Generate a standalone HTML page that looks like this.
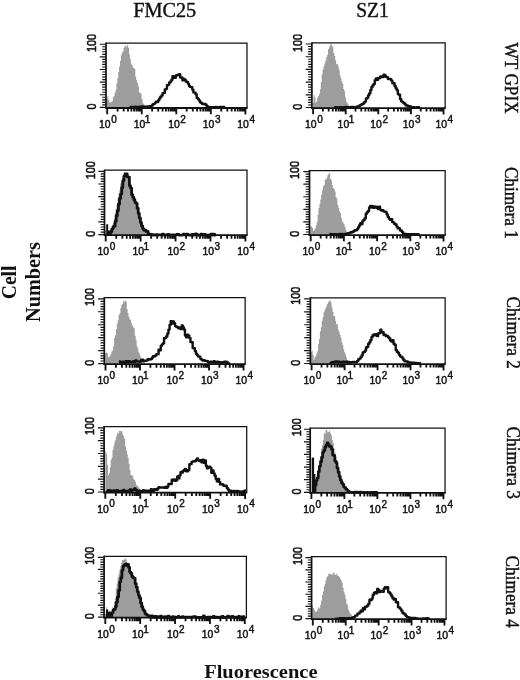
<!DOCTYPE html>
<html><head><meta charset="utf-8"><title>Figure</title>
<style>
html,body{margin:0;padding:0;background:#fff;}
body{width:520px;height:680px;overflow:hidden;font-family:"Liberation Sans",sans-serif;}
svg{display:block;will-change:transform;opacity:0.999;}
.tk{font-family:"Liberation Sans",sans-serif;font-size:10.4px;fill:#111;stroke:#111;stroke-width:0.45px;}
.sf{font-family:"Liberation Serif",serif;fill:#111;stroke:#111;stroke-width:0.4px;}
.sb{font-family:"Liberation Serif",serif;font-weight:bold;font-size:20px;fill:#111;}
</style></head><body>
<svg width="520" height="680" viewBox="0 0 520 680">
<rect width="520" height="680" fill="#fff"/>
<path d="M106.50 108.00L106.50 108.00L106.50 98.87H107.40V95.90H108.30V99.88H109.20V102.27H110.10V102.55H111.00V101.65H111.90V101.24H112.80V97.57H113.70V96.06H114.60V92.63H115.50V89.91H116.40V83.48H117.30V78.03H118.20V72.09H119.10V66.59H120.00V61.07H120.90V55.37H121.80V52.72H122.70V51.41H123.60V48.06H124.50V46.02H125.40V45.70H126.30V47.08H127.20V44.73H128.10V47.75H129.00V54.25H129.90V59.21H130.80V63.56H131.70V65.09H132.60V67.52H133.50V67.94H134.40V69.12H135.30V76.40H136.20V80.14H137.10V82.94H138.00V86.26H138.90V91.88H139.80V93.34H140.70V93.42H141.60V98.89H142.50V103.00H143.40V104.01H144.30V105.68H145.20V106.28H146.10V107.03H147.00V107.94H147.90V107.98H148.62V108.00Z" fill="#9d9d9d" stroke="none"/>
<path d="M312.70 108.10L312.70 108.10L312.70 103.03H313.60V95.14H314.50V97.58H315.40V102.84H316.30V101.49H317.20V97.75H318.10V95.88H319.00V93.95H319.90V89.23H320.80V82.21H321.70V74.30H322.60V69.20H323.50V66.15H324.40V63.40H325.30V60.65H326.20V56.98H327.10V54.63H328.00V49.32H328.90V47.57H329.80V44.61H330.70V44.31H331.60V45.16H332.50V47.32H333.40V53.08H334.30V56.08H335.20V60.37H336.10V64.32H337.00V63.87H337.90V66.13H338.80V69.44H339.70V75.13H340.60V78.36H341.50V81.42H342.40V83.78H343.30V89.03H344.20V91.18H345.10V97.30H346.00V101.48H346.90V103.10H347.80V104.19H348.70V106.28H349.60V107.19H350.50V107.97H350.80V108.10Z" fill="#9d9d9d" stroke="none"/>
<path d="M104.90 235.20L104.90 235.20L104.90 230.48H105.80V226.81H106.70V233.44H107.60V233.57H108.50V232.13H109.40V230.08H110.30V229.66H111.20V228.30H112.10V224.41H113.00V222.69H113.90V218.47H114.80V213.04H115.70V208.88H116.60V205.00H117.50V198.35H118.40V194.11H119.30V190.21H120.20V183.57H121.10V181.22H122.00V178.14H122.90V176.21H123.80V172.20H124.70V171.82H125.60V174.91H126.50V174.56H127.40V176.17H128.30V181.02H129.20V185.11H130.10V188.33H131.00V190.92H131.90V194.26H132.80V197.41H133.70V202.44H134.60V203.19H135.50V202.57H136.40V204.66H137.30V212.51H138.20V216.71H139.10V219.01H140.00V221.86H140.90V225.13H141.80V228.29H142.70V228.74H143.60V230.24H144.50V230.51H145.40V231.25H146.30V232.50H147.20V232.82H148.10V233.95H149.00V234.28H149.90V234.46H150.80V234.94H151.70V234.69H152.60V235.20H152.67V235.20Z" fill="#9d9d9d" stroke="none"/>
<path d="M310.40 235.10L310.40 235.10L310.40 226.29H311.30V226.60H312.20V228.12H313.10V230.95H314.00V229.81H314.90V228.58H315.80V225.35H316.70V221.90H317.60V214.82H318.50V208.05H319.40V204.09H320.30V199.49H321.20V194.43H322.10V189.91H323.00V186.14H323.90V184.88H324.80V179.57H325.70V179.49H326.60V177.52H327.50V175.07H328.40V173.85H329.30V172.99H330.20V178.91H331.10V180.48H332.00V184.98H332.90V188.08H333.80V188.93H334.70V191.52H335.60V197.09H336.50V198.79H337.40V204.69H338.30V208.11H339.20V211.30H340.10V213.01H341.00V217.67H341.90V221.48H342.80V222.72H343.70V224.21H344.60V226.96H345.50V230.12H346.40V231.80H347.30V233.12H348.20V234.40H348.93V235.10Z" fill="#9d9d9d" stroke="none"/>
<path d="M105.10 364.20L105.10 364.20L105.10 353.10H106.00V352.43H106.90V352.89H107.80V357.34H108.70V356.89H109.60V356.01H110.50V353.74H111.40V351.39H112.30V350.34H113.20V345.89H114.10V338.05H115.00V335.15H115.90V329.23H116.80V323.84H117.70V320.28H118.60V314.99H119.50V313.10H120.40V308.13H121.30V304.98H122.20V303.77H123.10V301.21H124.00V301.49H124.90V300.21H125.80V301.82H126.70V308.93H127.60V313.31H128.50V316.72H129.40V319.13H130.30V320.19H131.20V323.48H132.10V325.84H133.00V327.14H133.90V328.36H134.80V335.69H135.70V339.70H136.60V345.91H137.50V348.57H138.40V352.17H139.30V354.32H140.20V356.56H141.10V358.60H142.00V359.12H142.90V361.25H143.80V362.02H144.70V363.29H145.56V364.20Z" fill="#9d9d9d" stroke="none"/>
<path d="M310.90 364.10L310.90 364.10L310.90 351.86H311.80V350.90H312.70V354.89H313.60V359.73H314.50V357.22H315.40V356.06H316.30V353.48H317.20V351.30H318.10V344.09H319.00V338.94H319.90V331.62H320.80V327.33H321.70V321.12H322.60V317.26H323.50V312.33H324.40V310.15H325.30V308.18H326.20V306.35H327.10V303.63H328.00V301.99H328.90V300.91H329.80V300.51H330.70V302.47H331.60V307.44H332.50V312.01H333.40V315.74H334.30V316.60H335.20V320.65H336.10V324.06H337.00V324.59H337.90V329.49H338.80V332.12H339.70V335.02H340.60V337.98H341.50V341.99H342.40V345.04H343.30V348.99H344.20V352.16H345.10V354.32H346.00V357.35H346.90V359.98H347.80V361.38H348.70V362.82H349.60V363.76H349.64V364.10Z" fill="#9d9d9d" stroke="none"/>
<path d="M105.31 492.60L105.31 492.60L105.31 450.88H106.21V453.83H107.11V464.88H108.01V475.29H108.91V472.63H109.81V467.45H110.71V459.81H111.61V457.39H112.51V450.09H113.41V445.88H114.31V442.24H115.21V439.81H116.11V435.97H117.01V432.70H117.91V433.82H118.81V430.93H119.71V430.73H120.61V431.25H121.51V431.23H122.41V434.43H123.31V436.21H124.21V438.76H125.11V446.31H126.01V450.32H126.91V454.37H127.81V458.06H128.71V463.87H129.61V469.90H130.51V474.97H131.41V475.36H132.31V475.78H133.21V479.11H134.11V479.88H135.01V481.54H135.91V484.97H136.81V485.55H137.71V486.88H138.61V487.75H139.51V488.94H140.41V489.73H141.31V490.88H142.21V491.55H143.11V491.76H143.67V492.60Z" fill="#9d9d9d" stroke="none"/>
<path d="M311.20 492.90L311.20 492.90L311.20 491.99H312.10V489.76H313.00V487.86H313.90V485.23H314.80V481.53H315.70V477.58H316.60V475.18H317.50V470.53H318.40V467.00H319.30V459.69H320.20V456.25H321.10V448.48H322.00V445.18H322.90V439.82H323.80V433.35H324.70V433.59H325.60V429.82H326.50V430.31H327.40V432.37H328.30V432.00H329.20V430.64H330.10V433.36H331.00V435.22H331.90V439.91H332.80V442.98H333.70V448.52H334.60V452.51H335.50V456.36H336.40V459.90H337.30V463.02H338.20V469.67H339.10V473.22H340.00V475.67H340.90V480.13H341.80V482.11H342.70V485.35H343.60V487.39H344.50V487.80H345.40V489.13H346.30V490.33H347.20V491.08H348.10V492.14H349.00V492.72H349.00V492.90Z" fill="#9d9d9d" stroke="none"/>
<path d="M105.00 617.70L105.00 617.70L105.00 614.09H105.90V607.27H106.80V608.97H107.70V612.58H108.60V611.52H109.50V612.24H110.40V612.28H111.30V610.83H112.20V607.37H113.10V608.17H114.00V601.85H114.90V597.64H115.80V588.59H116.70V583.46H117.60V577.43H118.50V573.86H119.40V569.81H120.30V566.26H121.20V562.60H122.10V559.97H123.00V559.74H123.90V559.76H124.80V558.58H125.70V559.41H126.60V561.78H127.50V563.46H128.40V568.34H129.30V571.18H130.20V571.18H131.10V575.28H132.00V575.83H132.90V577.19H133.80V579.00H134.70V581.84H135.60V585.20H136.50V589.11H137.40V589.94H138.30V592.88H139.20V596.99H140.10V600.62H141.00V602.94H141.90V605.62H142.80V609.71H143.70V611.91H144.60V613.14H145.50V614.21H146.40V615.20H147.30V615.50H148.20V616.00H149.10V616.26H150.00V616.84H150.90V617.32H151.80V617.45H152.00V617.70Z" fill="#9d9d9d" stroke="none"/>
<path d="M312.10 619.20L312.10 619.20L312.10 606.03H313.00V607.99H313.90V609.64H314.80V611.50H315.70V612.08H316.60V610.92H317.50V608.57H318.40V607.35H319.30V608.39H320.20V604.63H321.10V600.56H322.00V595.09H322.90V591.56H323.80V586.61H324.70V583.80H325.60V579.77H326.50V576.88H327.40V575.86H328.30V573.67H329.20V573.97H330.10V573.75H331.00V574.54H331.90V574.75H332.80V572.65H333.70V572.58H334.60V574.83H335.50V574.96H336.40V573.51H337.30V575.75H338.20V575.67H339.10V577.34H340.00V578.48H340.90V580.32H341.80V582.79H342.70V587.76H343.60V591.41H344.50V594.38H345.40V598.63H346.30V603.85H347.20V605.35H348.10V609.75H349.00V611.99H349.90V613.70H350.80V614.55H351.70V616.35H352.60V617.03H353.50V617.61H354.40V618.23H354.86V619.20Z" fill="#9d9d9d" stroke="none"/>
<path d="M106.00 43.10H247.00V108.00" fill="none" stroke="#111" stroke-width="1.25"/>
<path d="M105.40 108.00H247.60" fill="none" stroke="#111" stroke-width="1.8"/>
<path d="M106.00 108.80V42.50" fill="none" stroke="#111" stroke-width="1.7"/>
<path d="M107.20 108.00v6.2M117.60 108.00v3.5M123.68 108.00v3.5M128.00 108.00v3.5M131.35 108.00v3.5M134.09 108.00v3.5M136.40 108.00v3.5M138.40 108.00v3.5M140.17 108.00v3.5M141.75 108.00v6.2M152.15 108.00v3.5M158.23 108.00v3.5M162.55 108.00v3.5M165.90 108.00v3.5M168.64 108.00v3.5M170.95 108.00v3.5M172.95 108.00v3.5M174.72 108.00v3.5M176.30 108.00v6.2M186.70 108.00v3.5M192.78 108.00v3.5M197.10 108.00v3.5M200.45 108.00v3.5M203.19 108.00v3.5M205.50 108.00v3.5M207.50 108.00v3.5M209.27 108.00v3.5M210.85 108.00v6.2M221.25 108.00v3.5M227.33 108.00v3.5M231.65 108.00v3.5M235.00 108.00v3.5M237.74 108.00v3.5M240.05 108.00v3.5M242.05 108.00v3.5M243.82 108.00v3.5M245.40 108.00v6.4" fill="none" stroke="#111" stroke-width="1.85"/>
<path d="M106.00 107.40h-6.2M106.00 104.87h-3.8M106.00 102.34h-3.8M106.00 99.82h-3.8M106.00 97.29h-3.8M106.00 94.76h-6.2M106.00 92.23h-3.8M106.00 89.70h-3.8M106.00 87.18h-3.8M106.00 84.65h-3.8M106.00 82.12h-6.2M106.00 79.59h-3.8M106.00 77.06h-3.8M106.00 74.54h-3.8M106.00 72.01h-3.8M106.00 69.48h-6.2M106.00 66.95h-3.8M106.00 64.42h-3.8M106.00 61.90h-3.8M106.00 59.37h-3.8M106.00 56.84h-6.2M106.00 54.31h-3.8M106.00 51.78h-3.8M106.00 49.26h-3.8M106.00 46.73h-3.8M106.00 44.20h-6.2" fill="none" stroke="#111" stroke-width="1.15"/>
<path d="M129.57 107.18H130.67V107.01H131.77V107.06H132.87V106.92H133.97V106.89H135.07V106.77H136.17V106.89H137.27V107.09H138.37V106.96H139.47V106.68H140.57V106.93H141.67V106.52H142.77V106.82H143.87V106.67H144.97V106.62H146.07V106.66H147.17V106.48H148.27V106.55H149.37V106.32H150.47V106.11H151.57V105.44H152.67V104.32H153.77V103.84H154.87V102.62H155.97V101.75H157.07V102.01H158.17V100.18H159.27V98.34H160.37V96.73H161.47V95.41H162.57V93.08H163.67V92.99H164.77V89.48H165.87V88.87H166.97V85.18H168.07V84.65H169.17V82.43H170.27V81.47H171.37V79.72H172.47V76.29H173.57V77.91H174.67V77.77H175.77V75.34H176.87V75.26H177.97V74.67H179.07V74.30H180.17V77.49H181.27V77.45H182.37V80.20H183.47V79.01H184.57V79.78H185.67V81.50H186.77V81.85H187.87V83.62H188.97V86.04H190.07V86.89H191.17V87.08H192.27V89.59H193.37V92.38H194.47V92.64H195.57V94.28H196.67V97.74H197.77V98.86H198.87V100.35H199.97V102.22H201.07V103.01H202.17V103.97H203.27V103.97H204.37V104.03H205.47V104.66H206.57V105.88H207.67V106.91H208.77V107.14H209.87V107.18H210.97V107.31H212.07V107.10H213.17V107.18H214.27V107.19H215.37V106.95H216.47V107.13H217.57V107.21H218.67V107.17H219.77V107.07H220.87V107.01H221.97V107.22H223.07V107.07H224.17V107.27H225.14" fill="none" stroke="#111" stroke-width="2.4" stroke-linejoin="round"/>
<text x="99.10" y="128.10" class="tk">10<tspan dx="0.6" dy="-5.3" style="font-size:10px">0</tspan></text>
<text x="133.65" y="128.10" class="tk">10<tspan dx="-0.5" dy="-5.3" style="font-size:10px">1</tspan></text>
<text x="168.20" y="128.10" class="tk">10<tspan dx="0.6" dy="-5.3" style="font-size:10px">2</tspan></text>
<text x="202.75" y="128.10" class="tk">10<tspan dx="0.6" dy="-5.3" style="font-size:10px">3</tspan></text>
<text x="237.30" y="128.10" class="tk">10<tspan dx="0.6" dy="-5.3" style="font-size:10px">4</tspan></text>
<text transform="translate(95.80 52.00) rotate(-90) scale(1.045 1.23)" class="tk">100</text>
<text transform="translate(95.80 109.60) rotate(-90) scale(1.045 1.23)" class="tk">0</text>
<path d="M311.90 42.90H445.15V108.10" fill="none" stroke="#111" stroke-width="1.25"/>
<path d="M311.30 108.10H445.75" fill="none" stroke="#111" stroke-width="1.8"/>
<path d="M311.90 108.90V42.30" fill="none" stroke="#111" stroke-width="1.7"/>
<path d="M313.10 108.10v6.2M322.92 108.10v3.5M328.66 108.10v3.5M332.73 108.10v3.5M335.90 108.10v3.5M338.48 108.10v3.5M340.66 108.10v3.5M342.55 108.10v3.5M344.22 108.10v3.5M345.71 108.10v6.2M355.53 108.10v3.5M361.27 108.10v3.5M365.35 108.10v3.5M368.51 108.10v3.5M371.09 108.10v3.5M373.27 108.10v3.5M375.16 108.10v3.5M376.83 108.10v3.5M378.32 108.10v6.2M388.14 108.10v3.5M393.89 108.10v3.5M397.96 108.10v3.5M401.12 108.10v3.5M403.70 108.10v3.5M405.89 108.10v3.5M407.78 108.10v3.5M409.45 108.10v3.5M410.94 108.10v6.2M420.75 108.10v3.5M426.50 108.10v3.5M430.57 108.10v3.5M433.73 108.10v3.5M436.31 108.10v3.5M438.50 108.10v3.5M440.39 108.10v3.5M442.06 108.10v3.5M443.55 108.10v6.4" fill="none" stroke="#111" stroke-width="1.85"/>
<path d="M311.90 107.50h-6.2M311.90 104.96h-3.8M311.90 102.42h-3.8M311.90 99.88h-3.8M311.90 97.34h-3.8M311.90 94.80h-6.2M311.90 92.26h-3.8M311.90 89.72h-3.8M311.90 87.18h-3.8M311.90 84.64h-3.8M311.90 82.10h-6.2M311.90 79.56h-3.8M311.90 77.02h-3.8M311.90 74.48h-3.8M311.90 71.94h-3.8M311.90 69.40h-6.2M311.90 66.86h-3.8M311.90 64.32h-3.8M311.90 61.78h-3.8M311.90 59.24h-3.8M311.90 56.70h-6.2M311.90 54.16h-3.8M311.90 51.62h-3.8M311.90 49.08h-3.8M311.90 46.54h-3.8M311.90 44.00h-6.2" fill="none" stroke="#111" stroke-width="1.15"/>
<path d="M334.06 107.58H335.16V107.30H336.26V107.34H337.36V107.56H338.46V107.53H339.56V107.28H340.66V107.29H341.76V107.49H342.86V107.38H343.96V107.31H345.06V107.06H346.16V107.38H347.26V107.31H348.36V107.17H349.46V107.08H350.56V107.00H351.66V107.06H352.76V107.04H353.86V107.14H354.96V107.13H356.06V106.91H357.16V106.33H358.26V106.42H359.36V105.55H360.46V105.02H361.56V104.20H362.66V103.80H363.76V102.45H364.86V101.38H365.96V98.48H367.06V97.82H368.16V95.28H369.26V93.14H370.36V89.98H371.46V87.02H372.56V85.23H373.66V83.92H374.76V80.25H375.86V78.44H376.96V79.85H378.06V77.85H379.16V78.13H380.26V76.36H381.36V76.47H382.46V77.03H383.56V74.62H384.66V75.44H385.76V76.90H386.86V77.22H387.96V79.04H389.06V79.02H390.16V79.10H391.26V80.59H392.36V83.30H393.46V83.13H394.56V85.99H395.66V88.19H396.76V90.08H397.86V94.09H398.96V94.68H400.06V98.99H401.16V101.16H402.26V101.89H403.36V102.98H404.46V103.76H405.56V105.25H406.66V105.51H407.76V106.09H408.86V106.26H409.96V106.48H411.06V107.17H412.16V107.18H413.26V107.17H414.36V107.39H415.46V107.39H416.56V107.11H417.66V107.18H418.76V107.48H419.86V107.48H420.18" fill="none" stroke="#111" stroke-width="2.4" stroke-linejoin="round"/>
<text x="305.00" y="128.20" class="tk">10<tspan dx="0.6" dy="-5.3" style="font-size:10px">0</tspan></text>
<text x="337.61" y="128.20" class="tk">10<tspan dx="-0.5" dy="-5.3" style="font-size:10px">1</tspan></text>
<text x="370.22" y="128.20" class="tk">10<tspan dx="0.6" dy="-5.3" style="font-size:10px">2</tspan></text>
<text x="402.84" y="128.20" class="tk">10<tspan dx="0.6" dy="-5.3" style="font-size:10px">3</tspan></text>
<text x="435.45" y="128.20" class="tk">10<tspan dx="0.6" dy="-5.3" style="font-size:10px">4</tspan></text>
<text transform="translate(301.80 52.00) rotate(-90) scale(1.045 1.23)" class="tk">100</text>
<text transform="translate(301.80 109.70) rotate(-90) scale(1.045 1.23)" class="tk">0</text>
<path d="M104.50 170.20H247.00V235.20" fill="none" stroke="#111" stroke-width="1.25"/>
<path d="M103.90 235.20H247.60" fill="none" stroke="#111" stroke-width="1.8"/>
<path d="M104.50 236.00V169.60" fill="none" stroke="#111" stroke-width="1.7"/>
<path d="M105.70 235.20v6.2M116.21 235.20v3.5M122.36 235.20v3.5M126.73 235.20v3.5M130.11 235.20v3.5M132.88 235.20v3.5M135.22 235.20v3.5M137.24 235.20v3.5M139.03 235.20v3.5M140.62 235.20v6.2M151.14 235.20v3.5M157.29 235.20v3.5M161.65 235.20v3.5M165.04 235.20v3.5M167.80 235.20v3.5M170.14 235.20v3.5M172.17 235.20v3.5M173.95 235.20v3.5M175.55 235.20v6.2M186.06 235.20v3.5M192.21 235.20v3.5M196.58 235.20v3.5M199.96 235.20v3.5M202.73 235.20v3.5M205.07 235.20v3.5M207.09 235.20v3.5M208.88 235.20v3.5M210.47 235.20v6.2M220.99 235.20v3.5M227.14 235.20v3.5M231.50 235.20v3.5M234.89 235.20v3.5M237.65 235.20v3.5M239.99 235.20v3.5M242.02 235.20v3.5M243.80 235.20v3.5M245.40 235.20v6.4" fill="none" stroke="#111" stroke-width="1.85"/>
<path d="M104.50 234.60h-6.2M104.50 232.07h-3.8M104.50 229.54h-3.8M104.50 227.00h-3.8M104.50 224.47h-3.8M104.50 221.94h-6.2M104.50 219.41h-3.8M104.50 216.88h-3.8M104.50 214.34h-3.8M104.50 211.81h-3.8M104.50 209.28h-6.2M104.50 206.75h-3.8M104.50 204.22h-3.8M104.50 201.68h-3.8M104.50 199.15h-3.8M104.50 196.62h-6.2M104.50 194.09h-3.8M104.50 191.56h-3.8M104.50 189.02h-3.8M104.50 186.49h-3.8M104.50 183.96h-6.2M104.50 181.43h-3.8M104.50 178.90h-3.8M104.50 176.36h-3.8M104.50 173.83h-3.8M104.50 171.30h-6.2" fill="none" stroke="#111" stroke-width="1.15"/>
<path d="M108.51 233.73H109.61V233.01H110.71V231.66H111.81V229.09H112.91V227.16H114.01V226.19H115.11V221.41H116.21V215.65H117.31V210.73H118.41V204.17H119.51V198.50H120.61V194.10H121.71V187.77H122.81V180.67H123.91V176.09H125.01V174.07H126.11V173.82H127.21V176.70H128.31V177.27H129.41V185.68H130.51V188.07H131.61V194.74H132.71V197.15H133.81V199.77H134.91V202.39H136.01V203.28H137.11V208.27H138.21V213.47H139.31V217.88H140.41V222.43H141.51V225.95H142.61V228.53H143.71V230.16H144.81V230.09H145.91V231.38H147.01V231.48H148.11V233.74H149.21V234.59H150.31V234.28H151.41V234.61H152.51V235.05H153.61V234.78H154.71V235.00H155.81V234.71H156.91V235.05H158.01V234.87H159.11V234.90H160.21V234.95H161.31V234.98H162.41V234.07H163.51V235.05H164.61V234.90H165.71V234.85H166.81V235.05H167.91V234.39H169.01V235.05H170.11V235.05H171.21V234.81H172.31V234.91H173.41V234.83H174.51V235.05H175.61V234.89H176.71V234.34H177.81V234.32H178.91V235.05H180.01V235.05H181.11V235.05H182.21V234.87H183.31V234.24H184.41V234.94H185.51V235.05H186.61V234.27H187.71V234.97H188.81V234.99H189.91V235.05H191.01V235.05H192.11V234.51H193.21V235.05H194.31V234.81H195.41V233.97H196.51V234.49H197.61V235.05H198.71V235.05H199.81V235.05H200.91V234.09H202.01V235.05H203.11V234.32H204.21V234.39H205.31V235.05H206.41V235.05H207.51V235.05H208.61V235.05H209.71V234.87H210.81V234.14H211.91V235.00H213.01V234.19H214.11V235.05H215.21V234.75H216.06" fill="none" stroke="#111" stroke-width="2.8" stroke-linejoin="round"/>
<path d="M107.20 235.20V224.30" fill="none" stroke="#111" stroke-width="2.0"/>
<path d="M108.80 235.20V230.50" fill="none" stroke="#111" stroke-width="2.0"/>
<path d="M110.40 235.20V231.00" fill="none" stroke="#111" stroke-width="1.8"/>
<text x="97.60" y="255.30" class="tk">10<tspan dx="0.6" dy="-5.3" style="font-size:10px">0</tspan></text>
<text x="132.53" y="255.30" class="tk">10<tspan dx="-0.5" dy="-5.3" style="font-size:10px">1</tspan></text>
<text x="167.45" y="255.30" class="tk">10<tspan dx="0.6" dy="-5.3" style="font-size:10px">2</tspan></text>
<text x="202.38" y="255.30" class="tk">10<tspan dx="0.6" dy="-5.3" style="font-size:10px">3</tspan></text>
<text x="237.30" y="255.30" class="tk">10<tspan dx="0.6" dy="-5.3" style="font-size:10px">4</tspan></text>
<text transform="translate(94.55 179.25) rotate(-90) scale(1.045 1.23)" class="tk">100</text>
<text transform="translate(94.55 236.80) rotate(-90) scale(1.045 1.23)" class="tk">0</text>
<path d="M309.50 170.50H445.15V235.10" fill="none" stroke="#111" stroke-width="1.25"/>
<path d="M308.90 235.10H445.75" fill="none" stroke="#111" stroke-width="1.8"/>
<path d="M309.50 235.90V169.90" fill="none" stroke="#111" stroke-width="1.7"/>
<path d="M310.70 235.10v6.2M320.70 235.10v3.5M326.55 235.10v3.5M330.70 235.10v3.5M333.91 235.10v3.5M336.54 235.10v3.5M338.77 235.10v3.5M340.69 235.10v3.5M342.39 235.10v3.5M343.91 235.10v6.2M353.91 235.10v3.5M359.76 235.10v3.5M363.91 235.10v3.5M367.13 235.10v3.5M369.76 235.10v3.5M371.98 235.10v3.5M373.91 235.10v3.5M375.61 235.10v3.5M377.12 235.10v6.2M387.12 235.10v3.5M392.97 235.10v3.5M397.12 235.10v3.5M400.34 235.10v3.5M402.97 235.10v3.5M405.19 235.10v3.5M407.12 235.10v3.5M408.82 235.10v3.5M410.34 235.10v6.2M420.34 235.10v3.5M426.18 235.10v3.5M430.33 235.10v3.5M433.55 235.10v3.5M436.18 235.10v3.5M438.41 235.10v3.5M440.33 235.10v3.5M442.03 235.10v3.5M443.55 235.10v6.4" fill="none" stroke="#111" stroke-width="1.85"/>
<path d="M309.50 234.50h-6.2M309.50 231.98h-3.8M309.50 229.47h-3.8M309.50 226.95h-3.8M309.50 224.44h-3.8M309.50 221.92h-6.2M309.50 219.40h-3.8M309.50 216.89h-3.8M309.50 214.37h-3.8M309.50 211.86h-3.8M309.50 209.34h-6.2M309.50 206.82h-3.8M309.50 204.31h-3.8M309.50 201.79h-3.8M309.50 199.28h-3.8M309.50 196.76h-6.2M309.50 194.24h-3.8M309.50 191.73h-3.8M309.50 189.21h-3.8M309.50 186.70h-3.8M309.50 184.18h-6.2M309.50 181.66h-3.8M309.50 179.15h-3.8M309.50 176.63h-3.8M309.50 174.12h-3.8M309.50 171.60h-6.2" fill="none" stroke="#111" stroke-width="1.15"/>
<path d="M329.47 234.04H330.57V234.12H331.67V234.11H332.77V234.09H333.87V234.15H334.97V234.11H336.07V234.25H337.17V234.37H338.27V234.37H339.37V233.97H340.47V234.25H341.57V234.03H342.67V234.36H343.77V234.17H344.87V233.96H345.97V234.13H347.07V233.47H348.17V233.31H349.27V232.91H350.37V232.10H351.47V232.18H352.57V231.79H353.67V231.06H354.77V230.31H355.87V230.21H356.97V229.16H358.07V227.25H359.17V225.32H360.27V223.12H361.37V223.95H362.47V220.76H363.57V219.75H364.67V218.18H365.77V213.73H366.87V212.17H367.97V210.88H369.07V207.40H370.17V206.00H371.27V207.51H372.37V206.09H373.47V207.69H374.57V206.80H375.67V206.70H376.77V207.88H377.87V209.02H378.97V206.82H380.07V209.60H381.17V210.49H382.27V210.18H383.37V211.21H384.47V211.65H385.57V212.11H386.67V214.42H387.77V217.01H388.87V218.60H389.97V219.79H391.07V219.09H392.17V221.91H393.27V222.59H394.37V223.94H395.47V224.44H396.57V226.59H397.67V228.31H398.77V228.28H399.87V230.23H400.97V230.73H402.07V232.13H403.17V233.82H404.27V233.88H405.37V233.98H406.47V234.13H407.57V234.25H408.67V234.33H409.77V234.15H410.87V234.14H411.97V234.23H413.07V234.59H414.17V234.19H415.27V234.57H416.37V234.12H417.47V234.37H418.57V234.22H419.46" fill="none" stroke="#111" stroke-width="2.4" stroke-linejoin="round"/>
<text x="302.60" y="255.20" class="tk">10<tspan dx="0.6" dy="-5.3" style="font-size:10px">0</tspan></text>
<text x="335.81" y="255.20" class="tk">10<tspan dx="-0.5" dy="-5.3" style="font-size:10px">1</tspan></text>
<text x="369.02" y="255.20" class="tk">10<tspan dx="0.6" dy="-5.3" style="font-size:10px">2</tspan></text>
<text x="402.24" y="255.20" class="tk">10<tspan dx="0.6" dy="-5.3" style="font-size:10px">3</tspan></text>
<text x="435.45" y="255.20" class="tk">10<tspan dx="0.6" dy="-5.3" style="font-size:10px">4</tspan></text>
<text transform="translate(299.30 179.00) rotate(-90) scale(1.045 1.23)" class="tk">100</text>
<text transform="translate(299.30 236.70) rotate(-90) scale(1.045 1.23)" class="tk">0</text>
<path d="M104.30 297.70H245.15V364.20" fill="none" stroke="#111" stroke-width="1.25"/>
<path d="M103.70 364.20H245.75" fill="none" stroke="#111" stroke-width="1.8"/>
<path d="M104.30 365.00V297.10" fill="none" stroke="#111" stroke-width="1.7"/>
<path d="M105.50 364.20v6.2M115.89 364.20v3.5M121.97 364.20v3.5M126.28 364.20v3.5M129.62 364.20v3.5M132.36 364.20v3.5M134.67 364.20v3.5M136.67 364.20v3.5M138.43 364.20v3.5M140.01 364.20v6.2M150.40 364.20v3.5M156.48 364.20v3.5M160.79 364.20v3.5M164.14 364.20v3.5M166.87 364.20v3.5M169.18 364.20v3.5M171.18 364.20v3.5M172.95 364.20v3.5M174.53 364.20v6.2M184.91 364.20v3.5M190.99 364.20v3.5M195.30 364.20v3.5M198.65 364.20v3.5M201.38 364.20v3.5M203.69 364.20v3.5M205.69 364.20v3.5M207.46 364.20v3.5M209.04 364.20v6.2M219.43 364.20v3.5M225.50 364.20v3.5M229.82 364.20v3.5M233.16 364.20v3.5M235.89 364.20v3.5M238.20 364.20v3.5M240.21 364.20v3.5M241.97 364.20v3.5M243.55 364.20v6.4" fill="none" stroke="#111" stroke-width="1.85"/>
<path d="M104.30 363.60h-6.2M104.30 361.01h-3.8M104.30 358.42h-3.8M104.30 355.82h-3.8M104.30 353.23h-3.8M104.30 350.64h-6.2M104.30 348.05h-3.8M104.30 345.46h-3.8M104.30 342.86h-3.8M104.30 340.27h-3.8M104.30 337.68h-6.2M104.30 335.09h-3.8M104.30 332.50h-3.8M104.30 329.90h-3.8M104.30 327.31h-3.8M104.30 324.72h-6.2M104.30 322.13h-3.8M104.30 319.54h-3.8M104.30 316.94h-3.8M104.30 314.35h-3.8M104.30 311.76h-6.2M104.30 309.17h-3.8M104.30 306.58h-3.8M104.30 303.98h-3.8M104.30 301.39h-3.8M104.30 298.80h-6.2" fill="none" stroke="#111" stroke-width="1.15"/>
<path d="M118.96 361.54H120.06V362.15H121.16V362.67H122.26V361.70H123.36V362.41H124.46V362.70H125.56V361.32H126.66V361.13H127.76V362.10H128.86V361.25H129.96V361.99H131.06V361.99H132.16V362.04H133.26V361.16H134.36V361.84H135.46V360.47H136.56V361.35H137.66V361.59H138.76V361.39H139.86V361.58H140.96V360.21H142.06V359.60H143.16V361.11H144.26V360.70H145.36V360.77H146.46V360.40H147.56V359.28H148.66V359.65H149.76V359.42H150.86V358.94H151.96V357.54H153.06V356.09H154.16V356.18H155.26V355.48H156.36V354.14H157.46V354.15H158.56V349.77H159.66V350.29H160.76V345.70H161.86V344.33H162.96V343.31H164.06V338.32H165.16V337.70H166.26V336.29H167.36V333.53H168.46V329.59H169.56V324.87H170.66V321.32H171.76V323.53H172.86V321.33H173.96V323.14H175.06V326.11H176.16V326.73H177.26V327.22H178.36V328.36H179.46V327.59H180.56V328.95H181.66V325.46H182.76V327.22H183.86V329.52H184.96V335.42H186.06V337.19H187.16V334.71H188.26V335.61H189.36V338.01H190.46V341.95H191.56V342.28H192.66V348.06H193.76V348.19H194.86V350.93H195.96V353.70H197.06V355.16H198.16V356.57H199.26V356.63H200.36V358.83H201.46V359.65H202.56V360.43H203.66V360.28H204.76V360.87H205.86V360.88H206.96V361.13H208.06V362.48H209.16V362.64H210.26V361.66H211.36V362.57H212.46V362.41H213.56V361.23H214.66V362.41H215.76V362.44H216.86V361.66H217.96V361.91H219.06V362.66H220.16V362.32H221.26V362.67H222.36V362.80H223.46V362.04H224.56V361.70H225.66V361.77H226.76V363.12H227.86V363.21H228.96V362.37H228.99" fill="none" stroke="#111" stroke-width="2.4" stroke-linejoin="round"/>
<text x="97.40" y="384.30" class="tk">10<tspan dx="0.6" dy="-5.3" style="font-size:10px">0</tspan></text>
<text x="131.91" y="384.30" class="tk">10<tspan dx="-0.5" dy="-5.3" style="font-size:10px">1</tspan></text>
<text x="166.43" y="384.30" class="tk">10<tspan dx="0.6" dy="-5.3" style="font-size:10px">2</tspan></text>
<text x="200.94" y="384.30" class="tk">10<tspan dx="0.6" dy="-5.3" style="font-size:10px">3</tspan></text>
<text x="235.45" y="384.30" class="tk">10<tspan dx="0.6" dy="-5.3" style="font-size:10px">4</tspan></text>
<text transform="translate(94.05 306.00) rotate(-90) scale(1.045 1.23)" class="tk">100</text>
<text transform="translate(94.05 365.80) rotate(-90) scale(1.045 1.23)" class="tk">0</text>
<path d="M310.40 297.80H445.15V364.10" fill="none" stroke="#111" stroke-width="1.25"/>
<path d="M309.80 364.10H445.75" fill="none" stroke="#111" stroke-width="1.8"/>
<path d="M310.40 364.90V297.20" fill="none" stroke="#111" stroke-width="1.7"/>
<path d="M311.60 364.10v6.2M321.53 364.10v3.5M327.34 364.10v3.5M331.46 364.10v3.5M334.66 364.10v3.5M337.27 364.10v3.5M339.48 364.10v3.5M341.39 364.10v3.5M343.08 364.10v3.5M344.59 364.10v6.2M354.52 364.10v3.5M360.33 364.10v3.5M364.45 364.10v3.5M367.64 364.10v3.5M370.26 364.10v3.5M372.47 364.10v3.5M374.38 364.10v3.5M376.07 364.10v3.5M377.57 364.10v6.2M387.51 364.10v3.5M393.31 364.10v3.5M397.44 364.10v3.5M400.63 364.10v3.5M403.24 364.10v3.5M405.45 364.10v3.5M407.37 364.10v3.5M409.05 364.10v3.5M410.56 364.10v6.2M420.49 364.10v3.5M426.30 364.10v3.5M430.42 364.10v3.5M433.62 364.10v3.5M436.23 364.10v3.5M438.44 364.10v3.5M440.35 364.10v3.5M442.04 364.10v3.5M443.55 364.10v6.4" fill="none" stroke="#111" stroke-width="1.85"/>
<path d="M310.40 363.50h-6.2M310.40 360.92h-3.8M310.40 358.33h-3.8M310.40 355.75h-3.8M310.40 353.16h-3.8M310.40 350.58h-6.2M310.40 348.00h-3.8M310.40 345.41h-3.8M310.40 342.83h-3.8M310.40 340.24h-3.8M310.40 337.66h-6.2M310.40 335.08h-3.8M310.40 332.49h-3.8M310.40 329.91h-3.8M310.40 327.32h-3.8M310.40 324.74h-6.2M310.40 322.16h-3.8M310.40 319.57h-3.8M310.40 316.99h-3.8M310.40 314.40h-3.8M310.40 311.82h-6.2M310.40 309.24h-3.8M310.40 306.65h-3.8M310.40 304.07h-3.8M310.40 301.48h-3.8M310.40 298.90h-6.2" fill="none" stroke="#111" stroke-width="1.15"/>
<path d="M329.72 363.17H330.82V362.82H331.92V362.21H333.02V362.03H334.12V361.96H335.22V361.56H336.32V361.48H337.42V362.07H338.52V361.69H339.62V361.98H340.72V361.99H341.82V362.05H342.92V361.81H344.02V361.91H345.12V362.09H346.22V361.65H347.32V362.18H348.42V361.90H349.52V362.30H350.62V362.27H351.72V362.09H352.82V361.94H353.92V362.07H355.02V362.16H356.12V361.97H357.22V360.85H358.32V359.29H359.42V358.61H360.52V357.29H361.62V355.19H362.72V352.52H363.82V351.93H364.92V350.54H366.02V347.43H367.12V346.69H368.22V343.69H369.32V342.19H370.42V339.91H371.52V336.97H372.62V335.27H373.72V334.45H374.82V335.40H375.92V334.13H377.02V335.97H378.12V333.36H379.22V333.03H380.32V329.72H381.42V332.19H382.52V332.12H383.62V335.00H384.72V334.65H385.82V336.07H386.92V336.06H388.02V337.26H389.12V338.22H390.22V340.48H391.32V341.47H392.42V340.19H393.52V343.78H394.62V344.80H395.72V349.94H396.82V351.75H397.92V352.70H399.02V354.83H400.12V356.42H401.22V357.05H402.32V358.32H403.42V359.97H404.52V361.20H405.62V361.41H406.72V361.52H407.82V362.23H408.92V362.45H410.02V362.36H411.12V362.61H412.22V363.04H413.32V362.62H414.42V363.21H415.52V362.98H416.62V363.19H417.72V363.27H418.82V363.35H419.92V363.20H420.92" fill="none" stroke="#111" stroke-width="2.4" stroke-linejoin="round"/>
<text x="303.50" y="384.20" class="tk">10<tspan dx="0.6" dy="-5.3" style="font-size:10px">0</tspan></text>
<text x="336.49" y="384.20" class="tk">10<tspan dx="-0.5" dy="-5.3" style="font-size:10px">1</tspan></text>
<text x="369.47" y="384.20" class="tk">10<tspan dx="0.6" dy="-5.3" style="font-size:10px">2</tspan></text>
<text x="402.46" y="384.20" class="tk">10<tspan dx="0.6" dy="-5.3" style="font-size:10px">3</tspan></text>
<text x="435.45" y="384.20" class="tk">10<tspan dx="0.6" dy="-5.3" style="font-size:10px">4</tspan></text>
<text transform="translate(300.20 304.85) rotate(-90) scale(1.045 1.23)" class="tk">100</text>
<text transform="translate(300.20 365.70) rotate(-90) scale(1.045 1.23)" class="tk">0</text>
<path d="M104.10 426.70H246.70V492.60" fill="none" stroke="#111" stroke-width="1.25"/>
<path d="M103.50 492.60H247.30" fill="none" stroke="#111" stroke-width="1.8"/>
<path d="M104.10 493.40V426.10" fill="none" stroke="#111" stroke-width="1.7"/>
<path d="M105.30 492.60v6.2M115.82 492.60v3.5M121.98 492.60v3.5M126.34 492.60v3.5M129.73 492.60v3.5M132.50 492.60v3.5M134.84 492.60v3.5M136.86 492.60v3.5M138.65 492.60v3.5M140.25 492.60v6.2M150.77 492.60v3.5M156.93 492.60v3.5M161.29 492.60v3.5M164.68 492.60v3.5M167.45 492.60v3.5M169.79 492.60v3.5M171.81 492.60v3.5M173.60 492.60v3.5M175.20 492.60v6.2M185.72 492.60v3.5M191.88 492.60v3.5M196.24 492.60v3.5M199.63 492.60v3.5M202.40 492.60v3.5M204.74 492.60v3.5M206.76 492.60v3.5M208.55 492.60v3.5M210.15 492.60v6.2M220.67 492.60v3.5M226.83 492.60v3.5M231.19 492.60v3.5M234.58 492.60v3.5M237.35 492.60v3.5M239.69 492.60v3.5M241.71 492.60v3.5M243.50 492.60v3.5M245.10 492.60v6.4" fill="none" stroke="#111" stroke-width="1.85"/>
<path d="M104.10 492.00h-6.2M104.10 489.43h-3.8M104.10 486.86h-3.8M104.10 484.30h-3.8M104.10 481.73h-3.8M104.10 479.16h-6.2M104.10 476.59h-3.8M104.10 474.02h-3.8M104.10 471.46h-3.8M104.10 468.89h-3.8M104.10 466.32h-6.2M104.10 463.75h-3.8M104.10 461.18h-3.8M104.10 458.62h-3.8M104.10 456.05h-3.8M104.10 453.48h-6.2M104.10 450.91h-3.8M104.10 448.34h-3.8M104.10 445.78h-3.8M104.10 443.21h-3.8M104.10 440.64h-6.2M104.10 438.07h-3.8M104.10 435.50h-3.8M104.10 432.94h-3.8M104.10 430.37h-3.8M104.10 427.80h-6.2" fill="none" stroke="#111" stroke-width="1.15"/>
<path d="M105.72 491.88H106.82V491.50H107.92V490.23H109.02V491.48H110.12V490.57H111.22V491.56H112.32V491.15H113.42V490.47H114.52V491.26H115.62V490.90H116.72V490.16H117.82V491.22H118.92V491.22H120.02V490.89H121.12V491.08H122.22V490.68H123.32V489.83H124.42V491.10H125.52V491.24H126.62V490.98H127.72V490.85H128.82V490.53H129.92V489.48H131.02V490.76H132.12V489.85H133.22V489.99H134.32V488.57H135.42V489.62H136.52V490.73H137.62V490.75H138.72V490.60H139.82V491.09H140.92V491.25H142.02V490.92H143.12V490.10H144.22V490.58H145.32V490.83H146.42V490.79H147.52V490.74H148.62V491.02H149.72V490.88H150.82V489.30H151.92V490.76H153.02V490.71H154.12V489.08H155.22V489.26H156.32V489.88H157.42V488.52H158.52V487.32H159.62V487.44H160.72V487.53H161.82V487.67H162.92V487.57H164.02V487.83H165.12V486.95H166.22V487.88H167.32V486.49H168.42V483.92H169.52V483.90H170.62V483.97H171.72V479.81H172.82V480.65H173.92V479.48H175.02V480.76H176.12V480.19H177.22V476.39H178.32V478.41H179.42V475.32H180.52V472.23H181.62V472.64H182.72V470.93H183.82V469.87H184.92V469.01H186.02V471.33H187.12V471.37H188.22V469.87H189.32V464.21H190.42V464.13H191.52V461.86H192.62V461.36H193.72V461.26H194.82V461.34H195.92V459.62H197.02V458.39H198.12V460.36H199.22V460.96H200.32V460.29H201.42V462.20H202.52V459.63H203.62V462.76H204.72V460.53H205.82V465.74H206.92V468.21H208.02V467.39H209.12V466.79H210.22V467.82H211.32V472.80H212.42V470.56H213.52V473.35H214.62V475.72H215.72V478.86H216.82V481.42H217.92V478.91H219.02V481.91H220.12V484.42H221.22V484.17H222.32V484.50H223.42V485.70H224.52V485.69H225.62V485.76H226.72V487.94H227.82V489.42H228.92V491.08H230.02V490.80H231.12V491.29H232.22V491.65H233.32V491.03H234.42V491.29H235.52V491.26H236.62V491.07H237.72V491.91H238.82V491.48H239.92V491.84H241.02V491.74H242.12V491.47H243.22V491.97H244.32V490.62H245.42V490.54H245.89" fill="none" stroke="#111" stroke-width="2.4" stroke-linejoin="round"/>
<text x="97.20" y="512.70" class="tk">10<tspan dx="0.6" dy="-5.3" style="font-size:10px">0</tspan></text>
<text x="132.15" y="512.70" class="tk">10<tspan dx="-0.5" dy="-5.3" style="font-size:10px">1</tspan></text>
<text x="167.10" y="512.70" class="tk">10<tspan dx="0.6" dy="-5.3" style="font-size:10px">2</tspan></text>
<text x="202.05" y="512.70" class="tk">10<tspan dx="0.6" dy="-5.3" style="font-size:10px">3</tspan></text>
<text x="237.00" y="512.70" class="tk">10<tspan dx="0.6" dy="-5.3" style="font-size:10px">4</tspan></text>
<text transform="translate(93.80 435.00) rotate(-90) scale(1.045 1.23)" class="tk">100</text>
<text transform="translate(93.80 494.20) rotate(-90) scale(1.045 1.23)" class="tk">0</text>
<path d="M310.20 428.10H445.05V492.90" fill="none" stroke="#111" stroke-width="1.25"/>
<path d="M309.60 492.90H445.65" fill="none" stroke="#111" stroke-width="1.8"/>
<path d="M310.20 493.70V427.50" fill="none" stroke="#111" stroke-width="1.7"/>
<path d="M311.40 492.90v6.2M321.34 492.90v3.5M327.15 492.90v3.5M331.28 492.90v3.5M334.47 492.90v3.5M337.09 492.90v3.5M339.30 492.90v3.5M341.21 492.90v3.5M342.90 492.90v3.5M344.41 492.90v6.2M354.35 492.90v3.5M360.16 492.90v3.5M364.29 492.90v3.5M367.49 492.90v3.5M370.10 492.90v3.5M372.31 492.90v3.5M374.23 492.90v3.5M375.91 492.90v3.5M377.42 492.90v6.2M387.36 492.90v3.5M393.18 492.90v3.5M397.30 492.90v3.5M400.50 492.90v3.5M403.11 492.90v3.5M405.32 492.90v3.5M407.24 492.90v3.5M408.93 492.90v3.5M410.44 492.90v6.2M420.38 492.90v3.5M426.19 492.90v3.5M430.31 492.90v3.5M433.51 492.90v3.5M436.13 492.90v3.5M438.34 492.90v3.5M440.25 492.90v3.5M441.94 492.90v3.5M443.45 492.90v6.4" fill="none" stroke="#111" stroke-width="1.85"/>
<path d="M310.20 492.30h-6.2M310.20 489.78h-3.8M310.20 487.25h-3.8M310.20 484.73h-3.8M310.20 482.20h-3.8M310.20 479.68h-6.2M310.20 477.16h-3.8M310.20 474.63h-3.8M310.20 472.11h-3.8M310.20 469.58h-3.8M310.20 467.06h-6.2M310.20 464.54h-3.8M310.20 462.01h-3.8M310.20 459.49h-3.8M310.20 456.96h-3.8M310.20 454.44h-6.2M310.20 451.92h-3.8M310.20 449.39h-3.8M310.20 446.87h-3.8M310.20 444.34h-3.8M310.20 441.82h-6.2M310.20 439.30h-3.8M310.20 436.77h-3.8M310.20 434.25h-3.8M310.20 431.72h-3.8M310.20 429.20h-6.2" fill="none" stroke="#111" stroke-width="1.15"/>
<path d="M315.00 485.19H316.10V480.54H317.20V478.06H318.30V471.57H319.40V466.28H320.50V461.83H321.60V457.47H322.70V452.32H323.80V450.44H324.90V447.21H326.00V445.02H327.10V442.96H328.20V444.97H329.30V446.38H330.40V446.62H331.50V449.42H332.60V455.08H333.70V455.60H334.80V461.02H335.90V462.53H337.00V468.06H338.10V472.18H339.20V476.41H340.30V479.97H341.40V482.68H342.50V484.11H343.60V486.74H344.70V487.65H345.80V489.13H346.90V490.32H348.00V491.04H349.10V492.07H350.20V492.51H351.30V492.33H352.40V492.34H353.50V492.42H354.60V492.13H355.70V492.47H356.80V492.17H357.90V492.37H359.00V492.51H360.10V492.15H361.20V492.48H362.30V492.55H363.40V492.29H364.50V492.59H365.60V492.61H366.70V492.26H367.80V492.54H368.90V492.59H370.00V492.33H371.10V492.58H372.20V492.36H373.30V492.54H374.40V492.47H375.50V492.33H376.60V492.64H377.70V492.60H378.00" fill="none" stroke="#111" stroke-width="2.7" stroke-linejoin="round"/>
<path d="M312.90 492.90V457.60" fill="none" stroke="#111" stroke-width="2.4"/>
<path d="M314.30 492.90V474.00" fill="none" stroke="#111" stroke-width="2.2"/>
<path d="M315.60 492.90V480.00" fill="none" stroke="#111" stroke-width="1.6"/>
<text x="303.30" y="513.00" class="tk">10<tspan dx="0.6" dy="-5.3" style="font-size:10px">0</tspan></text>
<text x="336.31" y="513.00" class="tk">10<tspan dx="-0.5" dy="-5.3" style="font-size:10px">1</tspan></text>
<text x="369.32" y="513.00" class="tk">10<tspan dx="0.6" dy="-5.3" style="font-size:10px">2</tspan></text>
<text x="402.34" y="513.00" class="tk">10<tspan dx="0.6" dy="-5.3" style="font-size:10px">3</tspan></text>
<text x="435.35" y="513.00" class="tk">10<tspan dx="0.6" dy="-5.3" style="font-size:10px">4</tspan></text>
<text transform="translate(300.55 436.25) rotate(-90) scale(1.045 1.23)" class="tk">100</text>
<text transform="translate(300.55 494.50) rotate(-90) scale(1.045 1.23)" class="tk">0</text>
<path d="M104.10 556.30H246.40V617.70" fill="none" stroke="#111" stroke-width="1.25"/>
<path d="M103.50 617.70H247.00" fill="none" stroke="#111" stroke-width="1.8"/>
<path d="M104.10 618.50V555.70" fill="none" stroke="#111" stroke-width="1.7"/>
<path d="M105.30 617.70v6.2M115.80 617.70v3.5M121.94 617.70v3.5M126.30 617.70v3.5M129.68 617.70v3.5M132.44 617.70v3.5M134.77 617.70v3.5M136.80 617.70v3.5M138.58 617.70v3.5M140.18 617.70v6.2M150.67 617.70v3.5M156.81 617.70v3.5M161.17 617.70v3.5M164.55 617.70v3.5M167.31 617.70v3.5M169.65 617.70v3.5M171.67 617.70v3.5M173.45 617.70v3.5M175.05 617.70v6.2M185.55 617.70v3.5M191.69 617.70v3.5M196.05 617.70v3.5M199.43 617.70v3.5M202.19 617.70v3.5M204.52 617.70v3.5M206.55 617.70v3.5M208.33 617.70v3.5M209.93 617.70v6.2M220.42 617.70v3.5M226.56 617.70v3.5M230.92 617.70v3.5M234.30 617.70v3.5M237.06 617.70v3.5M239.40 617.70v3.5M241.42 617.70v3.5M243.20 617.70v3.5M244.80 617.70v6.4" fill="none" stroke="#111" stroke-width="1.85"/>
<path d="M104.10 617.10h-6.2M104.10 614.71h-3.8M104.10 612.32h-3.8M104.10 609.94h-3.8M104.10 607.55h-3.8M104.10 605.16h-6.2M104.10 602.77h-3.8M104.10 600.38h-3.8M104.10 598.00h-3.8M104.10 595.61h-3.8M104.10 593.22h-6.2M104.10 590.83h-3.8M104.10 588.44h-3.8M104.10 586.06h-3.8M104.10 583.67h-3.8M104.10 581.28h-6.2M104.10 578.89h-3.8M104.10 576.50h-3.8M104.10 574.12h-3.8M104.10 571.73h-3.8M104.10 569.34h-6.2M104.10 566.95h-3.8M104.10 564.56h-3.8M104.10 562.18h-3.8M104.10 559.79h-3.8M104.10 557.40h-6.2" fill="none" stroke="#111" stroke-width="1.15"/>
<path d="M108.70 613.01H109.80V613.91H110.90V613.68H112.00V612.66H113.10V610.08H114.20V609.27H115.30V606.62H116.40V602.08H117.50V597.00H118.60V590.41H119.70V581.87H120.80V577.76H121.90V570.33H123.00V566.15H124.10V564.98H125.20V564.15H126.30V565.33H127.40V564.31H128.50V567.34H129.60V572.08H130.70V573.47H131.80V576.52H132.90V577.61H134.00V578.10H135.10V583.55H136.20V587.15H137.30V591.68H138.40V595.35H139.50V597.99H140.60V603.10H141.70V606.77H142.80V609.61H143.90V611.12H145.00V613.77H146.10V614.46H147.20V615.32H148.30V615.84H149.40V615.90H150.50V616.40H151.60V615.84H152.70V617.21H153.80V617.29H154.90V616.52H156.00V617.40H157.10V616.71H158.20V617.36H159.30V617.39H160.40V616.10H161.50V617.38H162.60V617.14H163.70V617.43H164.80V616.71H165.90V617.30H167.00V617.22H168.10V616.16H169.20V617.35H170.30V617.42H171.40V617.13H172.50V616.68H173.60V617.31H174.70V617.25H175.80V617.54H176.90V617.12H178.00V616.48H179.10V617.29H180.20V617.42H181.30V617.37H182.40V616.74H183.50V617.24H184.60V617.36H185.70V617.21H186.80V617.12H187.90V617.47H189.00V617.13H190.10V617.28H191.20V617.16H192.30V617.13H193.40V616.66H194.50V616.77H195.60V617.35H196.70V617.53H197.80V617.45H198.90V617.34H200.00V617.49H201.10V617.31H202.20V617.55H203.30V615.96H204.40V617.52H205.50V617.45H206.60V617.55H207.70V617.16H208.80V617.43H209.90V617.15H211.00V617.45H212.10V617.40H213.20V616.45H214.30V617.55H215.40V617.50H216.50V617.20H217.60V617.51H218.70V617.28H219.80V617.17H220.90V617.45H222.00V616.28H223.10V617.54H224.20V617.28H225.30V617.28H226.40V617.08H227.50V616.20H228.60V616.60H229.70V617.46H230.80V617.09H231.90V616.36H233.00V617.45H234.10V617.54H235.20V617.16H236.30V617.46H237.40V617.49H238.50V616.31H239.60V617.46H240.70V617.42H241.80V616.89H242.90V617.49H244.00V616.33H244.50" fill="none" stroke="#111" stroke-width="2.8" stroke-linejoin="round"/>
<path d="M107.10 617.70V609.60" fill="none" stroke="#111" stroke-width="2.2"/>
<path d="M108.80 617.70V612.20" fill="none" stroke="#111" stroke-width="2.0"/>
<path d="M110.50 617.70V612.80" fill="none" stroke="#111" stroke-width="2.0"/>
<path d="M112.20 617.70V612.40" fill="none" stroke="#111" stroke-width="1.8"/>
<text x="97.20" y="637.80" class="tk">10<tspan dx="0.6" dy="-5.3" style="font-size:10px">0</tspan></text>
<text x="132.08" y="637.80" class="tk">10<tspan dx="-0.5" dy="-5.3" style="font-size:10px">1</tspan></text>
<text x="166.95" y="637.80" class="tk">10<tspan dx="0.6" dy="-5.3" style="font-size:10px">2</tspan></text>
<text x="201.83" y="637.80" class="tk">10<tspan dx="0.6" dy="-5.3" style="font-size:10px">3</tspan></text>
<text x="236.70" y="637.80" class="tk">10<tspan dx="0.6" dy="-5.3" style="font-size:10px">4</tspan></text>
<text transform="translate(93.80 564.75) rotate(-90) scale(1.045 1.23)" class="tk">100</text>
<text transform="translate(93.80 619.30) rotate(-90) scale(1.045 1.23)" class="tk">0</text>
<path d="M311.60 556.50H446.10V619.20" fill="none" stroke="#111" stroke-width="1.25"/>
<path d="M311.00 619.20H446.70" fill="none" stroke="#111" stroke-width="1.8"/>
<path d="M311.60 620.00V555.90" fill="none" stroke="#111" stroke-width="1.7"/>
<path d="M312.80 619.20v6.2M322.71 619.20v3.5M328.51 619.20v3.5M332.62 619.20v3.5M335.81 619.20v3.5M338.42 619.20v3.5M340.62 619.20v3.5M342.53 619.20v3.5M344.22 619.20v3.5M345.73 619.20v6.2M355.64 619.20v3.5M361.43 619.20v3.5M365.55 619.20v3.5M368.74 619.20v3.5M371.35 619.20v3.5M373.55 619.20v3.5M375.46 619.20v3.5M377.14 619.20v3.5M378.65 619.20v6.2M388.56 619.20v3.5M394.36 619.20v3.5M398.47 619.20v3.5M401.66 619.20v3.5M404.27 619.20v3.5M406.47 619.20v3.5M408.38 619.20v3.5M410.07 619.20v3.5M411.57 619.20v6.2M421.49 619.20v3.5M427.28 619.20v3.5M431.40 619.20v3.5M434.59 619.20v3.5M437.20 619.20v3.5M439.40 619.20v3.5M441.31 619.20v3.5M442.99 619.20v3.5M444.50 619.20v6.4" fill="none" stroke="#111" stroke-width="1.85"/>
<path d="M311.60 618.60h-6.2M311.60 616.16h-3.8M311.60 613.72h-3.8M311.60 611.28h-3.8M311.60 608.84h-3.8M311.60 606.40h-6.2M311.60 603.96h-3.8M311.60 601.52h-3.8M311.60 599.08h-3.8M311.60 596.64h-3.8M311.60 594.20h-6.2M311.60 591.76h-3.8M311.60 589.32h-3.8M311.60 586.88h-3.8M311.60 584.44h-3.8M311.60 582.00h-6.2M311.60 579.56h-3.8M311.60 577.12h-3.8M311.60 574.68h-3.8M311.60 572.24h-3.8M311.60 569.80h-6.2M311.60 567.36h-3.8M311.60 564.92h-3.8M311.60 562.48h-3.8M311.60 560.04h-3.8M311.60 557.60h-6.2" fill="none" stroke="#111" stroke-width="1.15"/>
<path d="M335.34 618.65H336.44V618.63H337.54V618.66H338.64V618.68H339.74V618.18H340.84V618.49H341.94V618.22H343.04V618.21H344.14V618.17H345.24V618.43H346.34V618.55H347.44V618.21H348.54V618.32H349.64V618.58H350.74V618.56H351.84V617.76H352.94V617.13H354.04V616.84H355.14V615.64H356.24V615.44H357.34V613.67H358.44V613.42H359.54V612.19H360.64V610.75H361.74V611.27H362.84V608.22H363.94V609.24H365.04V606.72H366.14V606.56H367.24V605.53H368.34V603.82H369.44V599.77H370.54V600.15H371.64V598.61H372.74V594.89H373.84V593.04H374.94V592.29H376.04V593.41H377.14V589.00H378.24V590.01H379.34V591.96H380.44V591.67H381.54V591.03H382.64V591.69H383.74V588.81H384.84V587.20H385.94V588.22H387.04V587.25H388.14V591.95H389.24V592.64H390.34V594.21H391.44V596.28H392.54V598.27H393.64V599.49H394.74V599.05H395.84V602.32H396.94V602.22H398.04V607.15H399.14V607.65H400.24V609.09H401.34V610.64H402.44V612.96H403.54V613.55H404.64V614.51H405.74V615.89H406.84V616.88H407.94V617.15H409.04V617.82H410.14V617.86H411.24V617.96H412.34V618.05H413.44V618.24H414.54V617.98H415.64V618.40H416.74V618.39H417.84V618.63H418.94V618.69H420.04V618.67H421.14V618.62H422.24V618.45H423.34V618.75H424.44V618.48H425.54V618.39H426.64V618.24H427.74V618.51H428.84V618.65H429.80" fill="none" stroke="#111" stroke-width="2.4" stroke-linejoin="round"/>
<text x="304.70" y="639.30" class="tk">10<tspan dx="0.6" dy="-5.3" style="font-size:10px">0</tspan></text>
<text x="337.62" y="639.30" class="tk">10<tspan dx="-0.5" dy="-5.3" style="font-size:10px">1</tspan></text>
<text x="370.55" y="639.30" class="tk">10<tspan dx="0.6" dy="-5.3" style="font-size:10px">2</tspan></text>
<text x="403.47" y="639.30" class="tk">10<tspan dx="0.6" dy="-5.3" style="font-size:10px">3</tspan></text>
<text x="436.40" y="639.30" class="tk">10<tspan dx="0.6" dy="-5.3" style="font-size:10px">4</tspan></text>
<text transform="translate(301.80 565.00) rotate(-90) scale(1.045 1.23)" class="tk">100</text>
<text transform="translate(301.80 620.80) rotate(-90) scale(1.045 1.23)" class="tk">0</text>
<text x="133.2" y="16.7" class="sf" style="font-size:20px" textLength="63" lengthAdjust="spacingAndGlyphs">FMC25</text>
<text x="356.3" y="16.6" class="sf" style="font-size:20px" textLength="32.4" lengthAdjust="spacingAndGlyphs">SZ1</text>
<text transform="translate(504.9 42.6) rotate(90)" class="sf" style="font-size:18.8px" textLength="71.0" lengthAdjust="spacingAndGlyphs">WT GPIX</text>
<text transform="translate(505.2 166.9) rotate(90)" class="sf" style="font-size:17.8px" textLength="71.8" lengthAdjust="spacingAndGlyphs">Chimera 1</text>
<text transform="translate(506.8 296.5) rotate(90)" class="sf" style="font-size:17.8px" textLength="72.3" lengthAdjust="spacingAndGlyphs">Chimera 2</text>
<text transform="translate(506.8 426.5) rotate(90)" class="sf" style="font-size:17.8px" textLength="72.5" lengthAdjust="spacingAndGlyphs">Chimera 3</text>
<text transform="translate(505.6 555.6) rotate(90)" class="sf" style="font-size:17.8px" textLength="72.3" lengthAdjust="spacingAndGlyphs">Chimera 4</text>
<text transform="translate(15.8 282.4) rotate(-90)" class="sb" style="font-size:21px" text-anchor="middle" textLength="33.8" lengthAdjust="spacingAndGlyphs">Cell</text>
<text transform="translate(39.5 282.0) rotate(-90)" class="sb" text-anchor="middle" textLength="80" lengthAdjust="spacingAndGlyphs">Numbers</text>
<text x="204.2" y="678.1" class="sb" style="font-size:19.6px" textLength="113.3" lengthAdjust="spacingAndGlyphs">Fluorescence</text>
</svg>
</body></html>
